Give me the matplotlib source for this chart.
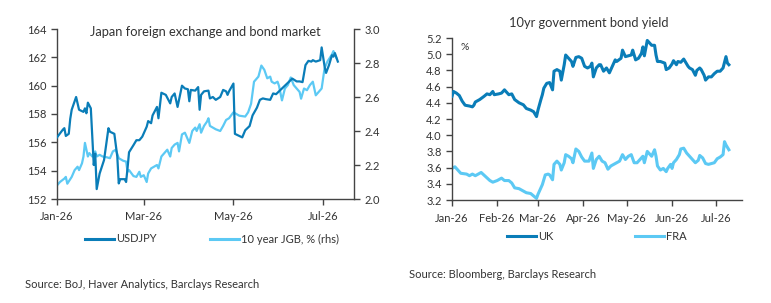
import matplotlib
matplotlib.use("Agg")
import matplotlib.pyplot as plt
import matplotlib.dates as mdates
from matplotlib.lines import Line2D
import numpy as np

# ---------------- data ----------------
START = np.datetime64("2026-01-01")

usdjpy_day = [0, 4, 5, 6, 8, 9, 10, 13, 15, 18, 19, 20, 21, 23, 25, 26, 27, 29, 32, 35,
              36, 39, 41, 42, 43, 46, 47, 48, 49, 52, 54, 56, 58, 61, 62, 64, 65, 68, 69, 71,
              74, 77, 78, 80, 82, 85, 87, 89, 90, 91, 94, 96, 97, 98, 100, 103, 104, 106, 108, 111,
              113, 115, 116, 117, 120, 121, 123, 126, 128, 131, 133, 136, 138, 140, 142, 145, 147, 149, 151, 155,
              158, 160, 163, 165, 167, 169, 171, 173, 174, 176, 179, 180, 182, 183, 185, 187, 188, 189, 191]
usdjpy_val = [156.35, 156.9, 157.0, 156.45, 156.6, 157.65, 158.3, 159.2, 158.3, 158.15, 158.4, 158.05, 158.8, 158.4, 154.4, 155.2, 152.7, 153.8, 154.75, 157.0,
              156.75, 156.6, 155.0, 153.1, 153.4, 153.4, 153.2, 154.2, 155.3, 155.8, 156.15, 156.15, 156.4, 157.1, 157.5, 157.35, 157.9, 158.5, 157.7, 159.5,
              159.35, 158.75, 159.2, 159.45, 158.5, 160.0, 159.8, 159.75, 158.9, 159.7, 159.65, 159.9, 158.3, 159.35, 159.6, 159.65, 159.1, 159.2, 159.0, 159.2,
              159.7, 159.6, 159.35, 159.6, 160.15, 156.6, 156.5, 156.35, 156.85, 157.15, 157.9, 158.45, 159.0, 159.1, 159.05, 159.0, 159.45, 159.4, 159.6, 160.0,
              160.3, 160.5, 160.3, 160.3, 160.25, 161.45, 161.75, 161.7, 161.8, 161.7, 161.8, 162.7, 161.35, 160.9, 161.45, 162.15, 162.05, 162.3, 161.7]

jgb_day = [0, 2, 5, 6, 7, 10, 12, 14, 15, 17, 18, 19, 21, 22, 24, 26, 27, 29, 31, 34,
           36, 38, 40, 42, 44, 45, 47, 48, 49, 52, 54, 56, 57, 59, 61, 62, 64, 66, 68, 69,
           71, 73, 75, 77, 78, 80, 82, 83, 85, 87, 88, 90, 92, 94, 95, 97, 98, 100, 102, 103,
           104, 106, 108, 111, 113, 115, 117, 120, 122, 124, 128, 130, 132, 134, 137, 139, 141, 143, 145, 146,
           148, 150, 151, 153, 155, 157, 159, 161, 163, 165, 166, 168, 170, 172, 174, 176, 178, 180, 182, 184,
           187, 188, 190]
jgb_val = [2.08, 2.10, 2.12, 2.13, 2.09, 2.13, 2.17, 2.19, 2.17, 2.21, 2.25, 2.33, 2.25, 2.27, 2.25, 2.28, 2.25, 2.26, 2.25, 2.245,
           2.24, 2.28, 2.29, 2.24, 2.23, 2.225, 2.22, 2.16, 2.17, 2.135, 2.13, 2.16, 2.13, 2.14, 2.10, 2.15, 2.18, 2.19, 2.20, 2.18,
           2.25, 2.27, 2.29, 2.25, 2.30, 2.32, 2.33, 2.28, 2.38, 2.39, 2.37, 2.33, 2.40, 2.42, 2.40, 2.44, 2.39, 2.43, 2.455, 2.475,
           2.43, 2.42, 2.41, 2.40, 2.43, 2.465, 2.475, 2.51, 2.50, 2.49, 2.485, 2.51, 2.56, 2.69, 2.72, 2.785, 2.76, 2.71, 2.72, 2.69,
           2.68, 2.69, 2.665, 2.58, 2.65, 2.67, 2.715, 2.67, 2.65, 2.63, 2.59, 2.65, 2.64, 2.67, 2.69, 2.61, 2.63, 2.65, 2.77, 2.81,
           2.85, 2.87, 2.83]

uk_day = [0, 1, 3, 5, 7, 9, 12, 14, 15, 16, 19, 22, 24, 26, 28, 29, 32, 34, 36, 39,
          41, 43, 46, 49, 51, 54, 56, 58, 59, 61, 62, 63, 65, 67, 69, 70, 72, 74, 75, 77,
          78, 80, 82, 83, 85, 87, 89, 91, 93, 95, 96, 97, 99, 101, 102, 104, 106, 108, 110, 112,
          113, 116, 117, 119, 121, 123, 124, 126, 128, 130, 131, 132, 134, 136, 137, 139, 140, 141, 143, 146,
          147, 149, 151, 152, 154, 155, 157, 159, 160, 162, 163, 165, 167, 168, 170, 171, 173, 174, 176, 178,
          180, 182, 184, 186, 188, 189, 190]
uk_val = [4.48, 4.54, 4.52, 4.49, 4.42, 4.37, 4.36, 4.35, 4.37, 4.41, 4.44, 4.48, 4.51, 4.50, 4.54, 4.50, 4.51, 4.52, 4.56, 4.50,
          4.51, 4.44, 4.40, 4.375, 4.33, 4.31, 4.29, 4.23, 4.31, 4.44, 4.50, 4.58, 4.64, 4.65, 4.56, 4.79, 4.81, 4.79, 4.68, 4.87,
          4.99, 4.95, 4.91, 4.85, 4.96, 4.97, 4.95, 4.85, 4.83, 4.85, 4.89, 4.72, 4.83, 4.87, 4.87, 4.79, 4.83, 4.77, 4.85, 4.93,
          4.91, 4.95, 5.05, 4.97, 4.98, 4.99, 5.05, 4.93, 4.95, 5.01, 5.09, 4.98, 5.17, 5.13, 5.11, 5.11, 4.99, 4.91, 4.91, 4.89,
          4.81, 4.83, 4.88, 4.92, 4.87, 4.91, 4.90, 4.94, 4.91, 4.85, 4.83, 4.81, 4.74, 4.80, 4.83, 4.81, 4.74, 4.68, 4.72, 4.72,
          4.76, 4.79, 4.79, 4.83, 4.97, 4.89, 4.87]

fra_day = [0, 2, 4, 6, 10, 12, 14, 16, 18, 20, 23, 26, 28, 31, 34, 36, 39, 41, 43, 46,
           49, 51, 54, 56, 58, 59, 61, 62, 64, 66, 67, 69, 70, 72, 74, 75, 77, 78, 80, 82,
           83, 85, 87, 89, 91, 94, 96, 97, 99, 101, 103, 105, 107, 109, 111, 113, 115, 117, 119, 121,
           123, 125, 127, 129, 131, 132, 134, 135, 137, 139, 140, 141, 143, 145, 147, 148, 150, 151, 152, 154,
           156, 157, 159, 161, 163, 165, 167, 169, 170, 172, 174, 176, 178, 180, 182, 184, 186, 187, 188, 190]
fra_val = [3.59, 3.61, 3.57, 3.53, 3.52, 3.50, 3.52, 3.50, 3.52, 3.54, 3.49, 3.44, 3.42, 3.44, 3.47, 3.44, 3.44, 3.41, 3.35, 3.34,
           3.31, 3.29, 3.28, 3.25, 3.22, 3.27, 3.35, 3.39, 3.51, 3.52, 3.51, 3.45, 3.64, 3.68, 3.64, 3.57, 3.66, 3.76, 3.74, 3.71,
           3.66, 3.83, 3.80, 3.73, 3.68, 3.68, 3.78, 3.59, 3.70, 3.74, 3.68, 3.66, 3.58, 3.62, 3.64, 3.66, 3.68, 3.76, 3.70, 3.74,
           3.76, 3.66, 3.66, 3.70, 3.74, 3.66, 3.80, 3.78, 3.74, 3.82, 3.74, 3.62, 3.57, 3.59, 3.55, 3.59, 3.64, 3.59, 3.66, 3.70,
           3.76, 3.83, 3.84, 3.78, 3.74, 3.70, 3.66, 3.69, 3.75, 3.72, 3.65, 3.64, 3.65, 3.66, 3.71, 3.73, 3.76, 3.92, 3.88, 3.82]

left_title = "Japan foreign exchange and bond market"
right_title = "10yr government bond yield"
left_source = "Source: BoJ, Haver Analytics, Barclays Research"
right_source = "Source: Bloomberg, Barclays Research"

# ---------------- style ----------------
DARK = "#0A7DB8"
LIGHT = "#5CC9F4"
TXT = "#333333"
plt.rcParams["font.family"] = ["Lato", "DejaVu Sans"]
plt.rcParams["font.size"] = 8
TICK_FS = 8


def to_dates(days):
    return START + np.array(days, dtype="timedelta64[D]")


W, H = 771, 303
fig = plt.figure(figsize=(W / 100, H / 100), dpi=100)

# ---------------- left chart ----------------
axL = fig.add_axes([57 / W, 1 - 199 / H, (354 - 57) / W, 170 / H])
axR2 = axL.twinx()
axL.plot(to_dates(usdjpy_day), usdjpy_val, color=DARK, lw=1.6, zorder=3)
axR2.plot(to_dates(jgb_day), jgb_val, color=LIGHT, lw=1.6, zorder=2)
axL.set_zorder(axR2.get_zorder() + 1)
axL.patch.set_visible(False)

axL.set_ylim(152, 164)
axL.set_yticks(np.arange(152, 165, 2))
axR2.set_ylim(2.0, 3.0)
axR2.set_yticks(np.arange(2.0, 3.01, 0.2))
axR2.yaxis.set_major_formatter(plt.FuncFormatter(lambda v, p: f"{v:.1f}"))
axL.set_xlim(np.datetime64("2026-01-01"), np.datetime64("2026-07-22"))
axL.xaxis.set_major_locator(mdates.MonthLocator(bymonth=[1, 3, 5, 7]))
axL.xaxis.set_major_formatter(mdates.DateFormatter("%b-%y"))

for a in (axL, axR2):
    a.spines["top"].set_visible(False)
    for s in a.spines.values():
        s.set_color("#444444")
        s.set_linewidth(1.0)
    a.tick_params(colors="#444444", labelcolor=TXT, labelsize=TICK_FS, length=4, width=1, direction="out")
axR2.spines["left"].set_visible(False)
axR2.spines["bottom"].set_visible(False)
axL.spines["right"].set_visible(False)
axL.tick_params(axis="x", pad=5)

fig.text(205 / W, 1 - 32 / H, left_title, ha="center", va="center", fontsize=9.3, color=TXT)

# ---------------- right chart ----------------
axB = fig.add_axes([452 / W, 1 - 200 / H, (742 - 452) / W, 162 / H])
axB.plot(to_dates(uk_day), uk_val, color=DARK, lw=2.2, zorder=3)
axB.plot(to_dates(fra_day), fra_val, color=LIGHT, lw=2.2, zorder=2)
axB.set_ylim(3.2, 5.2)
axB.set_yticks(np.arange(3.2, 5.21, 0.2))
axB.yaxis.set_major_formatter(plt.FuncFormatter(lambda v, p: f"{v:.1f}"))
axB.set_xlim(np.datetime64("2026-01-01"), np.datetime64("2026-07-19"))
axB.xaxis.set_major_locator(mdates.MonthLocator())
axB.xaxis.set_major_formatter(mdates.DateFormatter("%b-%y"))
for s in ("top", "right"):
    axB.spines[s].set_visible(False)
for s in axB.spines.values():
    s.set_color("#444444")
    s.set_linewidth(1.0)
axB.tick_params(colors="#444444", labelcolor=TXT, labelsize=TICK_FS, length=4, width=1, direction="out")
axB.tick_params(axis="x", pad=5)
axB.text(0.03, 0.97, "%", transform=axB.transAxes, ha="left", va="top", fontsize=7.5, color=TXT)
fig.text(589 / W, 1 - 23 / H, right_title, ha="center", va="center", fontsize=9.3, color=TXT)

# ---------------- legends ----------------
def add_leg(handle, label, x_px, y_px):
    fig.legend(handles=[handle], labels=[label], loc="center left",
               bbox_to_anchor=(x_px / W, 1 - y_px / H), frameon=False,
               handlelength=2.6, handletextpad=0.2, borderpad=0, borderaxespad=0,
               fontsize=8, labelcolor=TXT)

add_leg(Line2D([], [], color=DARK, lw=2.2), "USDJPY", 85, 239)
add_leg(Line2D([], [], color=LIGHT, lw=2.2), "10 year JGB, % (rhs)", 210, 239)
add_leg(Line2D([], [], color=DARK, lw=2.2), "UK", 507, 236)
add_leg(Line2D([], [], color=LIGHT, lw=2.2), "FRA", 635, 236)

fig.text(25 / W, 1 - 285 / H, left_source, ha="left", va="center", fontsize=8, color=TXT)
fig.text(409 / W, 1 - 275 / H, right_source, ha="left", va="center", fontsize=8, color=TXT)

fig.savefig("out.png", dpi=100)
